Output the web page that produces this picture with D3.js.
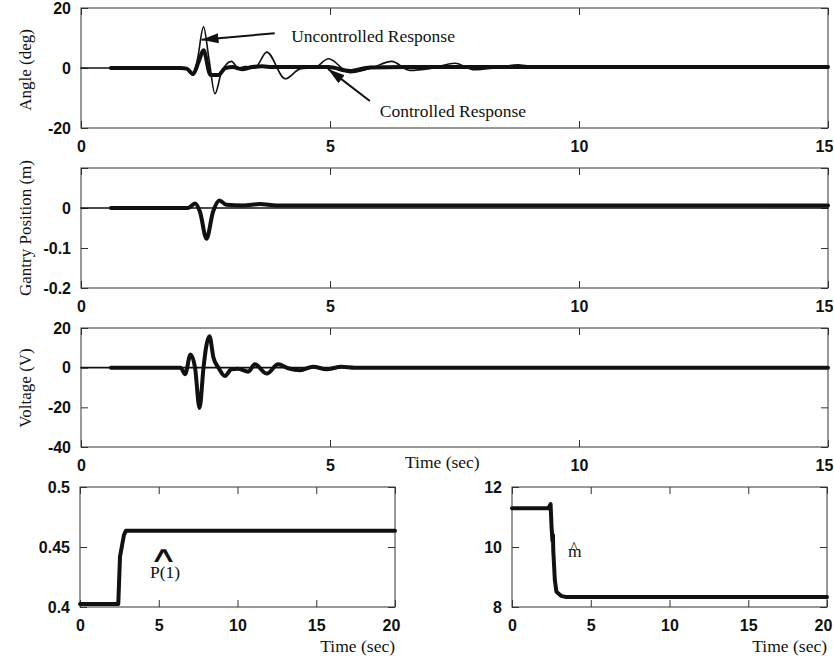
<!DOCTYPE html>
<html>
<head>
<meta charset="utf-8">
<script src="https://cdn.jsdelivr.net/npm/d3@7"></script>
<style>
  body { margin: 0; background: #fff; }
  svg { display: block; }
</style>
</head>
<body>
<div id="chart"></div>
<script>
// Angle (deg): uncontrolled (thin) and controlled (thick) response
const uncT = [0, 2.0, 2.12, 2.25, 2.34, 2.46, 2.57, 2.69, 2.82, 3.02, 3.16, 3.3, 3.5, 3.73, 4.1, 4.4, 4.7, 4.97, 5.4, 5.8, 6.24, 6.6, 7.0, 7.51, 7.9, 8.3, 8.78, 9.2, 9.7, 15];
const uncAngle = [0, 0, -0.3, -2.4, 3, 13.7, 3, -8.6, -1.5, 2.2, 0, 0.5, 0.3, 5.3, -3.6, -0.3, 0.2, 3.1, -1.6, -0.2, 2.2, -0.8, -0.2, 1.6, -0.6, 0, 1.1, 0.1, 0.3, 0.3];
const conT = [0.6, 2.0, 2.12, 2.25, 2.36, 2.46, 2.6, 2.76, 2.9, 3.05, 3.23, 3.44, 3.64, 3.84, 4.2, 4.97, 5.4, 5.8, 6.5, 15];
const conAngle = [0, 0, -0.2, -2, 2, 5.9, -2.3, -2.3, 0, 0.3, -0.4, 0.3, 0.6, 0.3, 0.3, 0.3, -1, 0.2, 0.3, 0.3];

// Gantry position (m)
const ganT = [0.6, 2.15, 2.29, 2.39, 2.52, 2.65, 2.78, 2.92, 3.26, 3.59, 3.93, 15];
const ganPos = [0, 0, 0.011, -0.01, -0.077, -0.01, 0.019, 0.008, 0.006, 0.01, 0.006, 0.006];
const ganUncT = [0, 15];
const ganUncPos = [0, 0];

// Voltage (V)
const volT = [0.6, 2.0, 2.09, 2.2, 2.29, 2.38, 2.46, 2.51, 2.58, 2.66, 2.76, 2.89, 3.02, 3.15, 3.36, 3.49, 3.73, 3.96, 4.16, 4.4, 4.66, 4.93, 5.23, 5.5, 15];
const volV = [0, 0, -3.3, 6.7, 0, -20.3, 0, 10, 15.8, 5, 0, -4.2, -0.8, -0.5, -2, 1.7, -3, 1.7, -0.3, -1.3, 0.5, -0.8, 0.5, 0, 0];
const volUncT = [0, 15];
const volUncV = [0, 0];

// Estimated parameters
const p1T = [0, 2.43, 2.54, 2.79, 2.92, 20];
const p1V = [0.4025, 0.4025, 0.442, 0.46, 0.4636, 0.4636];
const mT = [0, 2.31, 2.45, 2.51, 2.57, 2.6, 2.62, 2.72, 2.82, 3.13, 3.45, 20];
const mV = [11.29, 11.29, 11.43, 10.68, 10.2, 10.4, 9.9, 8.9, 8.51, 8.37, 8.33, 8.33];

// Tick values
const timeTicks15 = [0, 5, 10, 15];
const timeTicks20 = [0, 5, 10, 15, 20];
const angleTicks = [-20, 0, 20];
const ganTicks = [-0.2, -0.1, 0, 0.1];
const ganTickLabels = ["-0.2", "-0.1", "0", ""];
const volTicks = [-40, -20, 0, 20];
const p1Ticks = [0.4, 0.45, 0.5];
const mTicks = [8, 10, 12];

const width = 834, height = 660;
const ink = "#111";
const frameColor = "#333";
const tickFont = "'Liberation Sans', Arial, Helvetica, sans-serif";
const textFont = "'Liberation Serif', 'Times New Roman', serif";

const svg = d3.select("#chart").append("svg")
  .attr("width", width)
  .attr("height", height)
  .attr("viewBox", [0, 0, width, height]);

svg.append("defs").append("marker")
  .attr("id", "arrow")
  .attr("markerUnits", "userSpaceOnUse")
  .attr("markerWidth", 18)
  .attr("markerHeight", 11)
  .attr("refX", 17)
  .attr("refY", 5)
  .attr("orient", "auto")
  .append("path")
  .attr("d", "M0,0 L17,5 L0,10 Z")
  .attr("fill", ink);

function makePanel({ left, right, top, bottom, xDomain, yDomain, xTicks, yTicks, yFormat }) {
  const x = d3.scaleLinear().domain(xDomain).range([left, right]);
  const y = d3.scaleLinear().domain(yDomain).range([bottom, top]);
  const g = svg.append("g");

  g.append("rect")
    .attr("x", left).attr("y", top)
    .attr("width", right - left).attr("height", bottom - top)
    .attr("fill", "none")
    .attr("stroke", frameColor)
    .attr("stroke-width", 1);

  const fmt = yFormat || (d => String(d));

  const bottomAxis = g.append("g").attr("transform", `translate(0,${bottom})`)
    .call(d3.axisBottom(x).tickValues(xTicks).tickSizeInner(-7).tickSizeOuter(0).tickPadding(13).tickFormat(d => String(d)));
  const axes = [
    bottomAxis,
    g.append("g").attr("transform", `translate(0,${top})`)
      .call(d3.axisTop(x).tickValues(xTicks).tickSizeInner(-7).tickSizeOuter(0).tickFormat("")),
    g.append("g").attr("transform", `translate(${left},0)`)
      .call(d3.axisLeft(y).tickValues(yTicks).tickSizeInner(-7).tickSizeOuter(0).tickPadding(10).tickFormat(fmt)),
    g.append("g").attr("transform", `translate(${right},0)`)
      .call(d3.axisRight(y).tickValues(yTicks).tickSizeInner(-7).tickSizeOuter(0).tickFormat(""))
  ];
  axes.forEach(a => {
    a.select(".domain").remove();
    a.selectAll(".tick line").attr("stroke", frameColor);
    a.attr("font-family", tickFont).attr("font-size", 16).attr("font-weight", "bold");
    a.selectAll(".tick text").attr("fill", ink);
  });
  // keep the last time label inside the page edge
  bottomAxis.selectAll(".tick text")
    .filter((d, i, n) => i === n.length - 1)
    .attr("dx", -4);

  return { x, y, g };
}

function drawSeries(p, ts, vs, strokeWidth, curve) {
  const pts = ts.map((t, i) => [t, vs[i]]);
  p.g.append("path")
    .datum(pts)
    .attr("fill", "none")
    .attr("stroke", ink)
    .attr("stroke-width", strokeWidth)
    .attr("stroke-linejoin", "round")
    .attr("stroke-linecap", "round")
    .attr("d", d3.line().x(d => p.x(d[0])).y(d => p.y(d[1])).curve(curve));
}

function yTitle(text, cx, cy) {
  svg.append("text")
    .attr("transform", `translate(${cx},${cy}) rotate(-90)`)
    .attr("text-anchor", "middle")
    .attr("font-family", textFont)
    .attr("font-size", 17)
    .attr("fill", ink)
    .text(text);
}

function label(text, x, y, anchor, size) {
  return svg.append("text")
    .attr("x", x).attr("y", y)
    .attr("text-anchor", anchor || "start")
    .attr("font-family", textFont)
    .attr("font-size", size || 17.5)
    .attr("fill", ink)
    .text(text);
}

// hat accent drawn above an estimated symbol
function hat(glyph, hx, hy, font, size, sx) {
  svg.append("text")
    .attr("transform", `translate(${hx},${hy}) scale(${sx},1)`)
    .attr("text-anchor", "middle")
    .attr("font-family", font)
    .attr("font-size", size)
    .attr("fill", ink)
    .text(glyph);
}

// Panel 1: angle
const pA = makePanel({ left: 81, right: 828, top: 8, bottom: 128, xDomain: [0, 15], yDomain: [-20, 20], xTicks: timeTicks15, yTicks: angleTicks });
drawSeries(pA, uncT, uncAngle, 1.6, d3.curveMonotoneX);
drawSeries(pA, conT, conAngle, 4, d3.curveMonotoneX);
yTitle("Angle (deg)", 31, 70);

svg.append("line")
  .attr("x1", pA.x(3.89)).attr("y1", pA.y(11.6))
  .attr("x2", pA.x(2.42)).attr("y2", pA.y(9.4))
  .attr("stroke", ink).attr("stroke-width", 2)
  .attr("marker-end", "url(#arrow)");
label("Uncontrolled Response", pA.x(4.22), pA.y(8.7));

svg.append("line")
  .attr("x1", pA.x(5.8)).attr("y1", pA.y(-11))
  .attr("x2", pA.x(4.96)).attr("y2", pA.y(-0.3))
  .attr("stroke", ink).attr("stroke-width", 2)
  .attr("marker-end", "url(#arrow)");
label("Controlled Response", pA.x(6.0), pA.y(-16.4));

// Panel 2: gantry position
const pG = makePanel({ left: 81, right: 828, top: 168, bottom: 288, xDomain: [0, 15], yDomain: [-0.2, 0.1], xTicks: timeTicks15, yTicks: ganTicks,
  yFormat: d => ganTickLabels[ganTicks.indexOf(d)] });
drawSeries(pG, ganUncT, ganUncPos, 1.6, d3.curveLinear);
drawSeries(pG, ganT, ganPos, 4, d3.curveMonotoneX);
yTitle("Gantry Position (m)", 31, 228);

// Panel 3: voltage
const pV = makePanel({ left: 81, right: 828, top: 328, bottom: 447, xDomain: [0, 15], yDomain: [-40, 20], xTicks: timeTicks15, yTicks: volTicks });
drawSeries(pV, volUncT, volUncV, 1.6, d3.curveLinear);
drawSeries(pV, volT, volV, 4, d3.curveMonotoneX);
yTitle("Voltage (V)", 31, 388);
label("Time (sec)", 405, 468);

// Panel 4: P(1) estimate
const pP = makePanel({ left: 80, right: 395, top: 487, bottom: 607, xDomain: [0, 20], yDomain: [0.4, 0.5], xTicks: timeTicks20, yTicks: p1Ticks });
drawSeries(pP, p1T, p1V, 4, d3.curveLinear);
label("Time (sec)", 395, 652, "end");
label("P(1)", pP.x(4.44), pP.y(0.4242));
hat("∧", pP.x(5.3), 562, "'DejaVu Sans', sans-serif", 22, 1.8);

// Panel 5: m estimate
const pM = makePanel({ left: 512, right: 827, top: 487, bottom: 607, xDomain: [0, 20], yDomain: [8, 12], xTicks: timeTicks20, yTicks: mTicks });
drawSeries(pM, mT, mV, 4, d3.curveLinear);
label("Time (sec)", 827, 652, "end");
label("m", pM.x(3.56), pM.y(9.67));
hat("^", pM.x(3.94), 553, "'Liberation Serif', serif", 16, 1);
</script>
</body>
</html>
